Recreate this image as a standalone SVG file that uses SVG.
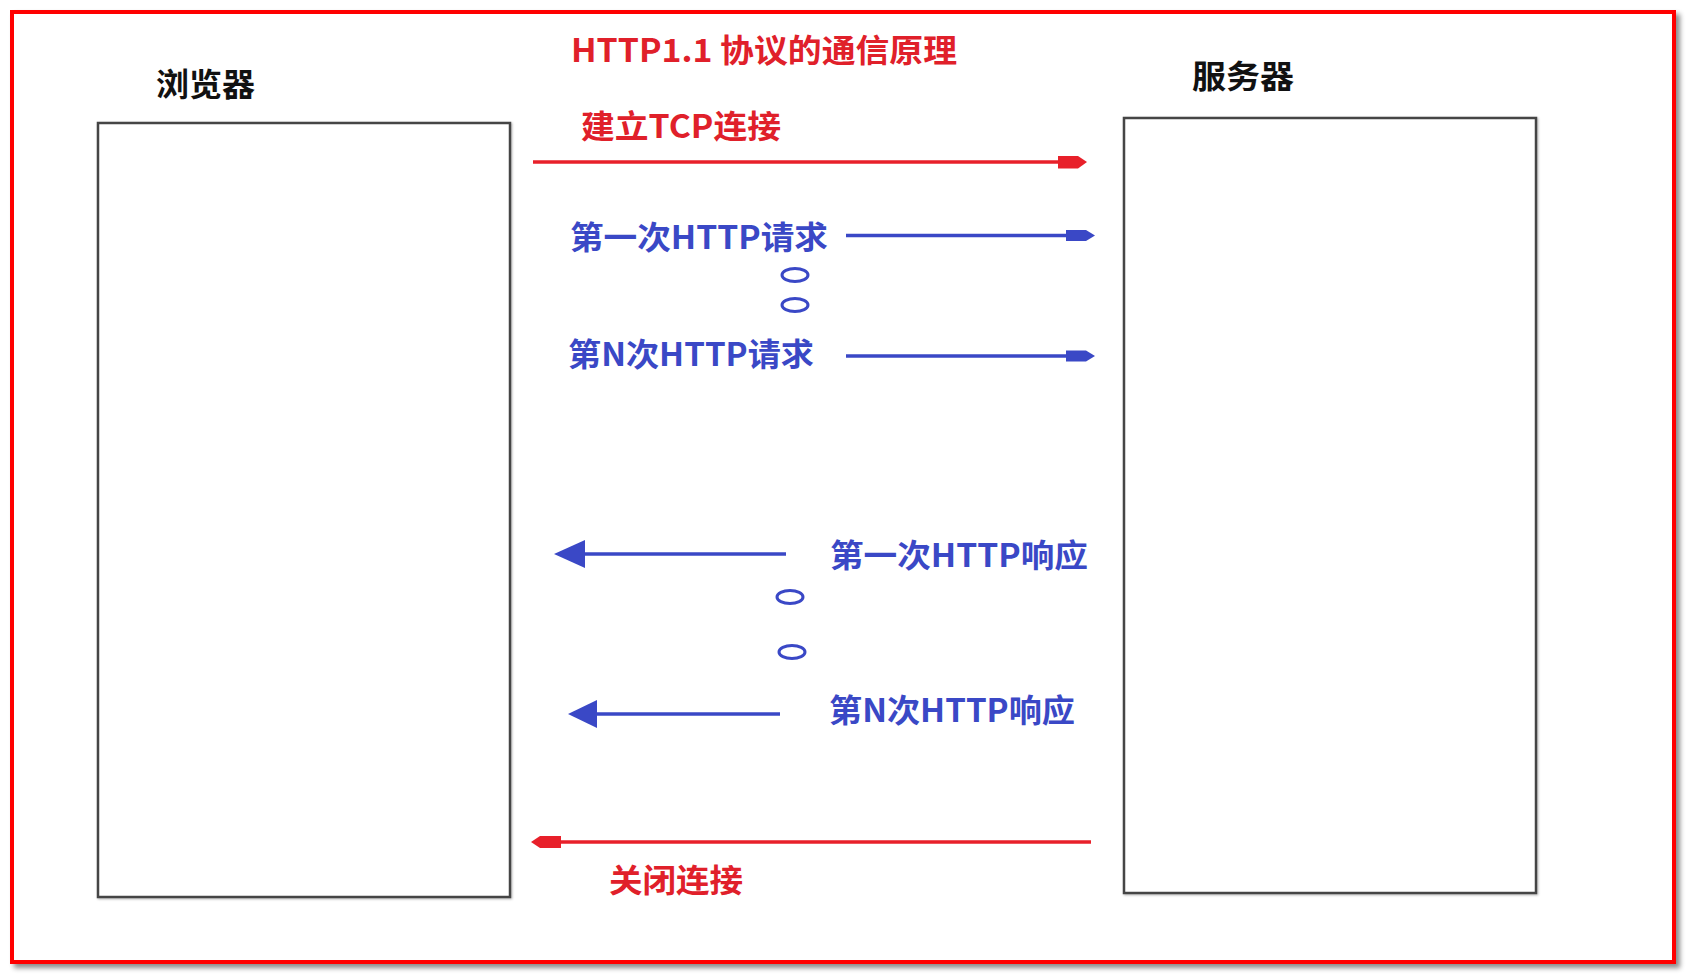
<svg xmlns="http://www.w3.org/2000/svg" width="1686" height="975" viewBox="0 0 1686 975">
  <defs>
    <filter id="shadow" x="-5%" y="-5%" width="110%" height="110%">
      <feGaussianBlur in="SourceAlpha" stdDeviation="2.5"/>
      <feOffset dx="4" dy="4" result="b"/>
      <feFlood flood-color="#000" flood-opacity="0.45"/>
      <feComposite in2="b" operator="in"/>
      <feMerge><feMergeNode/><feMergeNode in="SourceGraphic"/></feMerge>
    </filter>
    <filter id="soft" x="-5%" y="-5%" width="110%" height="110%">
      <feGaussianBlur in="SourceAlpha" stdDeviation="1"/>
      <feOffset dx="1" dy="1" result="b"/>
      <feFlood flood-color="#000" flood-opacity="0.3"/>
      <feComposite in2="b" operator="in"/>
      <feMerge><feMergeNode/><feMergeNode in="SourceGraphic"/></feMerge>
    </filter>
  </defs>
  <style>
    .t { font-family: "Noto Sans CJK SC", "Noto Sans", sans-serif; font-weight: bold; font-size: 32px; }
    .black { fill: #111; }
    .red { fill: #e0202a; }
    .blue { fill: #3a48c6; }
    .box { fill: #fff; stroke: #444; stroke-width: 2.5; }
    .rline { stroke: #e8202a; stroke-width: 3.5; fill: none; }
    .bline { stroke: #3a48c6; stroke-width: 3.5; fill: none; }
    .rhead { fill: #e8202a; }
    .bhead { fill: #3a48c6; }
    .oval { fill: none; stroke: #3a48c6; stroke-width: 3; }
  </style>
  <rect width="1686" height="975" fill="#fff"/>
  <g id="frame">
    <rect x="12" y="12" width="1662" height="950" fill="#fff" stroke="#ff0000" stroke-width="4" filter="url(#shadow)"/>
  </g>
  <g id="browser">
    <rect class="box" x="98" y="123" width="412" height="774" filter="url(#soft)"/>
    <text class="t black" x="156" y="96" font-size="33" textLength="99" lengthAdjust="spacingAndGlyphs">浏览器</text>
  </g>
  <g id="server">
    <rect class="box" x="1124" y="118" width="412" height="775" filter="url(#soft)"/>
    <text class="t black" x="1192" y="88" font-size="33" textLength="102" lengthAdjust="spacingAndGlyphs">服务器</text>
  </g>
  <g id="title">
    <text class="t red" x="571" y="62" textLength="386" lengthAdjust="spacingAndGlyphs">HTTP1.1 协议的通信原理</text>
  </g>
  <g id="connectors">
    <g id="tcp-open">
      <line class="rline" x1="533" y1="162" x2="1060" y2="162"/>
      <polygon class="rhead" points="1058,156 1078,156 1087,162 1078,168.5 1058,168.5"/>
    </g>
    <g id="req-1">
      <line class="bline" x1="846" y1="235.5" x2="1068" y2="235.5" stroke-width="3"/>
      <polygon class="bhead" points="1066,230 1086,230 1095,235.5 1086,241 1066,241"/>
    </g>
    <g id="req-n">
      <line class="bline" x1="846" y1="356" x2="1068" y2="356" stroke-width="3"/>
      <polygon class="bhead" points="1066,350.5 1086,350.5 1095,356 1086,361.5 1066,361.5"/>
    </g>
    <g id="resp-1">
      <line class="bline" x1="786" y1="554" x2="580" y2="554"/>
      <polygon class="bhead" points="554,554 585,540 585,568"/>
    </g>
    <g id="resp-n">
      <line class="bline" x1="780" y1="714" x2="594" y2="714"/>
      <polygon class="bhead" points="568,714 597,700 597,728"/>
    </g>
    <g id="tcp-close">
      <line class="rline" x1="1091" y1="842" x2="558" y2="842"/>
      <polygon class="rhead" points="531,842 540,836 561,836 561,848 540,848"/>
    </g>
  </g>
  <g id="ellipsis">
    <ellipse class="oval" cx="795" cy="275" rx="13" ry="6.5"/>
    <ellipse class="oval" cx="795" cy="305" rx="13" ry="6.5"/>
    <ellipse class="oval" cx="790" cy="597" rx="13" ry="6.5"/>
    <ellipse class="oval" cx="792" cy="652" rx="13" ry="6.5"/>
  </g>
  <g id="labels">
    <text class="t red" x="581" y="138" textLength="200" lengthAdjust="spacingAndGlyphs">建立TCP连接</text>
    <text class="t blue" x="570" y="249" textLength="258" lengthAdjust="spacingAndGlyphs">第一次HTTP请求</text>
    <text class="t blue" x="568" y="366" textLength="246" lengthAdjust="spacingAndGlyphs">第N次HTTP请求</text>
    <text class="t blue" x="830" y="567" textLength="258" lengthAdjust="spacingAndGlyphs">第一次HTTP响应</text>
    <text class="t blue" x="829" y="722" textLength="246" lengthAdjust="spacingAndGlyphs">第N次HTTP响应</text>
    <text class="t red" x="609" y="892" textLength="134" lengthAdjust="spacingAndGlyphs">关闭连接</text>
  </g>
</svg>
